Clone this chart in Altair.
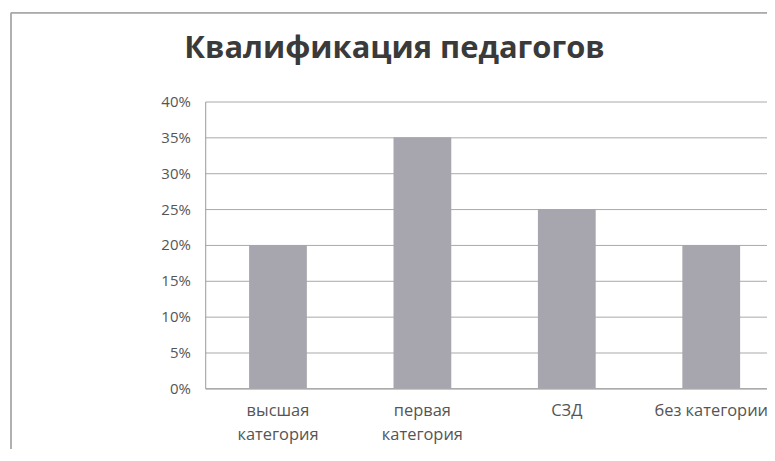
import altair as alt
import pandas as pd

categories = ["высшая\nкатегория", "первая\nкатегория", "СЗД", "без категории"]
values = [0.20, 0.35, 0.25, 0.20]
y_ticks = [0, 0.05, 0.10, 0.15, 0.20, 0.25, 0.30, 0.35, 0.40]
title_text = "Квалификация педагогов"

df = pd.DataFrame({"cat": categories, "val": values})

FONT = "Open Sans"

bars = alt.Chart(df).mark_bar(color="#a7a6ae").encode(
    x=alt.X("cat:N", sort=categories,
            scale=alt.Scale(paddingInner=0.6, paddingOuter=0.245, align=0.62),
            axis=alt.Axis(title=None, labelAngle=0, labelExpr="split(datum.label, '\\n')",
                          labelFont=FONT, labelFontSize=16.5, labelColor="#555555",
                          labelPadding=14, labelLineHeight=24, ticks=False,
                          domainColor="#9a9a9a", labelBaseline="top")),
    y=alt.Y("val:Q", scale=alt.Scale(domain=[0, 0.40], nice=False),
            axis=alt.Axis(title=None, values=y_ticks, format=".0%", labelFont=FONT,
                          labelFontSize=15, labelColor="#555555", labelPadding=15,
                          ticks=False, gridColor="#a8a8a8", domainColor="#9a9a9a")),
)

frame_left = alt.Chart(df).mark_rule(color="#aaaaaa", strokeWidth=1).encode(
    x=alt.value(-195), y=alt.value(-89), y2=alt.value(400))
frame_top = alt.Chart(df).mark_rule(color="#aaaaaa", strokeWidth=1).encode(
    x=alt.value(-195), x2=alt.value(600), y=alt.value(-89))

chart = alt.layer(bars, frame_left, frame_top).properties(
    width=564, height=288,
    title=alt.TitleParams(title_text, font=FONT, fontSize=31, fontWeight="bold",
                          color="#3a3a3a", anchor="middle", dx=-92, dy=89, offset=36,
                          frame="group"),
    autosize=alt.AutoSizeParams(type="none"),
    padding={"left": 198, "top": 93, "right": 0, "bottom": 60},
).configure_view(stroke=None)

chart.save("out.html", embed_options={"renderer": "svg", "actions": False})
